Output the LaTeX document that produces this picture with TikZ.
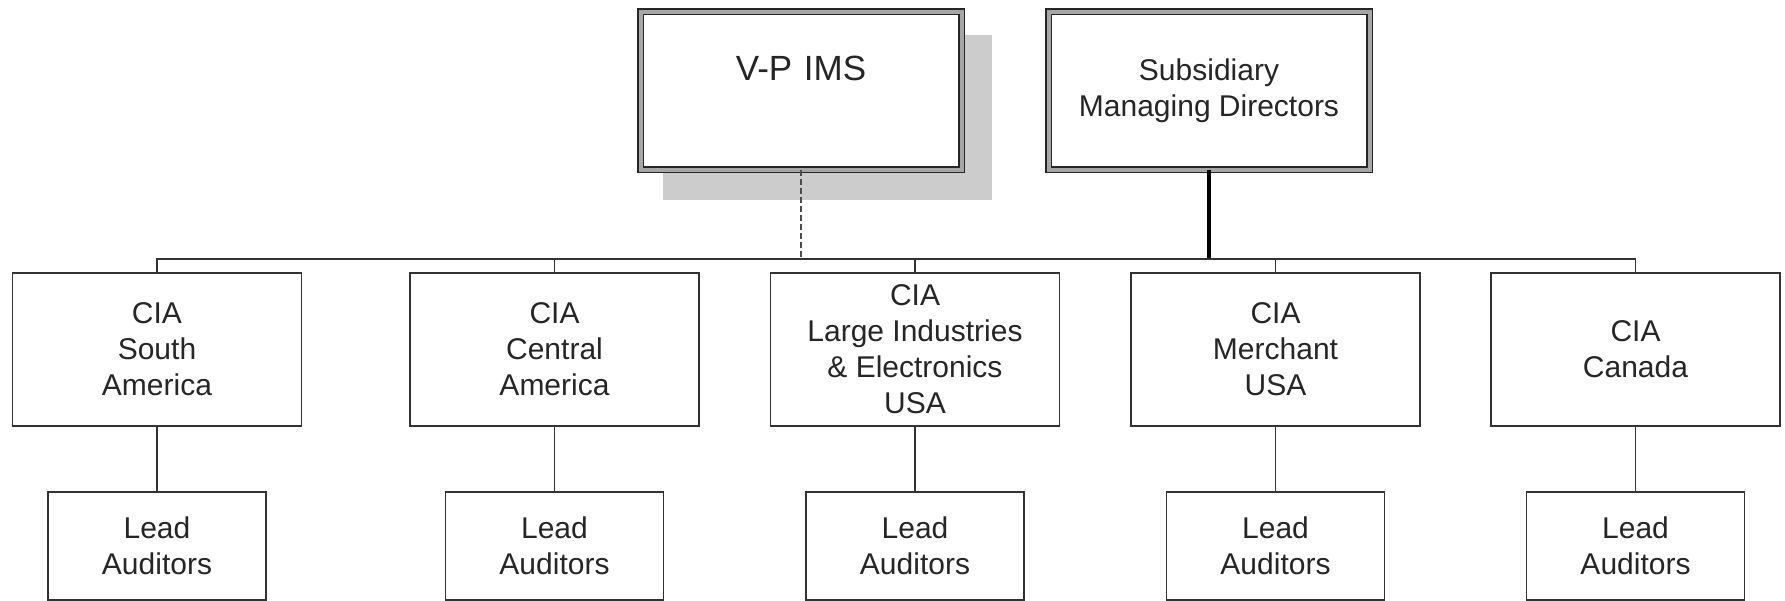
\documentclass[tikz,border=0pt]{standalone}
\usepackage{fontspec}
\setmainfont{Liberation Sans}
\begin{document}
\begin{tikzpicture}[x=1pt,y=-1pt,
  conn/.style={draw=black!80, line width=1.8pt},
  cia/.style={draw=black!80, line width=1.6pt, fill=white, minimum width=289pt, minimum height=153pt,
    inner sep=0pt, outer sep=0pt, align=center, font=\fontsize{30}{36}\selectfont, text=black!85},
  lead/.style={cia, minimum width=218pt, minimum height=108pt},
  topbox/.style={draw=black!85, line width=1.5pt, double=black!35, double distance=4pt, fill=white,
    inner sep=0pt, outer sep=0pt, minimum width=321pt, minimum height=158pt, align=center,
    font=\fontsize{30}{36}\selectfont, text=black!85},
]
\useasboundingbox (0,0) rectangle (1785,600);
% shadow of V-P IMS
\fill[black!20] (663,35) rectangle (992,200);
% top boxes
\node[topbox, font=\fontsize{35}{42}\selectfont, text height=68.5pt, text depth=89.5pt, text width=321pt, anchor=base] (vp) at (801,80) {V-P IMS};
\node[topbox] (smd) at (1209,90.5) {Subsidiary\\Managing Directors};
% CIA boxes
\node[cia] (c1) at (157,349.5) {CIA\\South\\America};
\node[cia] (c2) at (554.5,349.5) {CIA\\Central\\America};
\node[cia] (c3) at (915,349.5) {CIA\\Large Industries\\\& Electronics\\USA};
\node[cia] (c4) at (1275.5,349.5) {CIA\\Merchant\\USA};
\node[cia] (c5) at (1635.5,349.5) {CIA\\Canada};
% lead auditors
\node[lead] (l1) at (157,546) {Lead\\Auditors};
\node[lead] (l2) at (554.5,546) {Lead\\Auditors};
\node[lead] (l3) at (915,546) {Lead\\Auditors};
\node[lead] (l4) at (1275.5,546) {Lead\\Auditors};
\node[lead] (l5) at (1635.5,546) {Lead\\Auditors};
% bus
\coordinate (bus) at (0,259);
\draw[black!70, line width=2pt, dash pattern=on 6pt off 3pt] (vp.south) -- (vp.south |- bus);
\draw[black, line width=4pt] (smd.south) -- (smd.south |- bus);
\draw[conn] (c1.north) -- (c1.north |- bus) -- (c5.north |- bus) -- (c5.north);
\foreach \n in {c2,c3,c4} \draw[conn] (\n.north) -- (\n.north |- bus);
\foreach \i in {1,...,5} \draw[conn] (c\i.south) -- (l\i.north);
\end{tikzpicture}
\end{document}
